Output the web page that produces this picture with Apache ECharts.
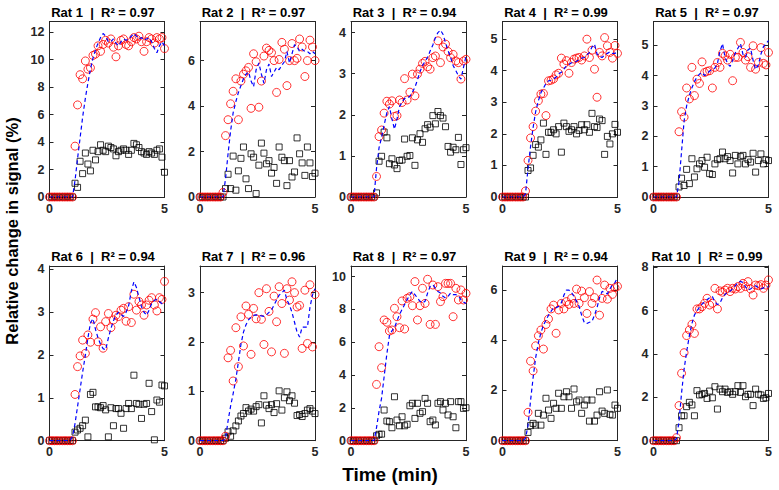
<!DOCTYPE html>
<html>
<head>
<meta charset="utf-8">
<script src="https://cdn.jsdelivr.net/npm/echarts@6/dist/echarts.min.js"></script>
<style>
html,body{margin:0;padding:0;background:#fff;}
#chart{width:779px;height:490px;}
</style>
</head>
<body>
<div id="chart"></div>
<script>
// ---- data ----
const T = [0,0.11,0.22,0.33,0.44,0.56,0.67,0.78,0.89,1,1.11,1.22,1.33,1.44,1.56,1.67,1.78,1.89,2,2.11,2.22,2.33,2.44,2.56,2.67,2.78,2.89,3,3.11,3.22,3.33,3.44,3.56,3.67,3.78,3.89,4,4.11,4.22,4.33,4.44,4.56,4.67,4.78,4.89,5];

const rat1Red   = [0,0,0,0,0,0,0,0,0, 0, 3.7,6.7,8.9,8.6,9.9,9.3,9.4,10.3,10.4,11.0, 10.6,11.1,11.4,11.2,11.5,10.9,10.2,11.0,11.4,11.5, 11.1,11.0,11.3,11.6,11.5,11.7,11.3,10.6,11.3,11.6, 11.5,11.2,11.6,11.5,11.6,10.8];
const rat1Black = [0,0,0,0,0,0,0,0,0, 0, 1.0,0.7,2.6,1.7,3.2,2.4,1.9,3.4,2.7,3.3, 3.8,3.4,3.3,3.7,3.6,3.5,3.0,3.3,3.4,3.5, 3.4,3.1,3.4,3.9,3.8,3.6,3.3,3.2,3.1,3.3, 3.2,3.1,3.4,3.5,2.9,1.8];
const rat1Fit   = [0,0,0,0,0,0,0,0,0, 0, 1.2,2.8,4.3,5.8,7.2,8.3,9.3,10.1,10.7,11.2, 11.6,11.9,11.7,11.3,11.3,11.5,11.2,11.0,11.3,11.5, 11.4,11.5,11.7,11.9,11.7,11.5,11.6,11.4,11.5,11.6, 11.3,10.8,10.5,11.0,11.3,11.0];

const rat2Red   = [0,0,0,0,0,0,0,0,0, 0.2, 2.7,3.4,4.1,4.65,5.2,3.4,5.1,5.4,5.55,5.7, 3.9,6.3,5.95,3.95,5.1,6.2,6.55,6.45,6.35,6.0, 4.6,6.05,6.8,6.5,4.9,6.0,6.75,6.0,6.1,6.95, 6.6,5.3,6.0,6.9,6.6,6.0];
const rat2Black = [0,0,0,0,0,0,0,0,0, 0, 0.37,1.0,0.37,1.8,0.3,1.15,1.7,2.2,0.8,0.37, 1.9,1.75,0.15,1.4,2.37,1.93,1.46,1.6,1.05,1.3, 0.6,2.2,1.75,1.6,0.5,1.6,0.88,1.1,2.6,1.9, 1.5,0.95,2.2,1.5,0.9,1.05];
const rat2Fit   = [0,0,0,0,0,0,0,0,0, 0, 0.8,1.9,2.9,3.7,4.2,4.6,4.9,5.2,5.4,5.5, 5.1,4.85,5.6,5.9,5.4,5.0,5.6,5.85,5.3,5.5, 5.7,5.6,5.8,5.95,6.4,5.9,6.3,6.7,6.6,6.4, 6.5,6.4,6.4,6.3,6.4,6.3];

const rat3Red   = [0,0,0,0,0,0,0,0,0, 0, 0.5,1.47,1.63,2.04,2.33,2.26,2.34,1.96,1.98,2.36, 2.3,2.88,2.36,2.55,2.99,2.46,2.99,3.11,3.25,3.3, 3.17,3.11,3.39,3.43,3.8,3.27,3.65,3.72,3.54,3.39, 3.47,3.31,3.27,2.87,3.31,3.35];
const rat3Black = [0,0,0,0,0,0,0,0,0, 0, 0.1,0.87,0.99,1.58,1.44,0.81,0.93,0.78,0.69,0.89, 0.9,1.41,0.99,1.01,1.44,0.77,1.39,1.54,1.33,1.66, 1.76,1.7,1.98,1.78,2.08,1.98,1.92,1.71,1.23,1.09, 1.21,1.15,1.45,0.79,1.15,1.2];
const rat3Fit   = [0,0,0,0,0,0,0,0,0, 0, 0.7,1.2,1.45,1.75,2.05,2.2,1.9,1.65,1.9,2.2, 2.3,2.4,2.4,2.45,2.55,2.67,2.85,3.05,3.2,3.3, 3.4,3.55,3.7,3.88,4.0,4.06,3.96,3.75,3.56,3.4, 3.2,3.07,2.95,2.87,3.15,3.43];

const rat4Red   = [0,0,0,0,0,0,0,0,0, 0.19, 1.16,1.87,2.23,2.72,3.05,3.26,3.28,2.58,3.68,3.7, 3.74,3.87,3.92,4.4,4.21,4.32,3.92,4.26,4.37,4.4, 4.42,4.34,4.47,5.0,4.42,4.65,4.05,3.16,4.58,4.47, 5.05,4.79,4.58,4.4,4.8,4.55];
const rat4Black = [0,0,0,0,0,0,0,0,0, 0, 0.84,0.92,1.32,1.66,1.58,1.81,2.34,1.35,2.05,2.05, 2.13,2.0,2.23,1.42,2.34,2.23,2.08,2.13,2.23,2.0, 2.11,2.29,2.13,2.29,2.05,2.65,2.23,2.2,2.47,2.42, 1.35,1.92,1.68,2.0,2.3,2.05];
const rat4Fit   = [0,0,0,0,0,0,0,0,0, 0.1, 0.9,1.6,2.2,2.7,3.05,3.3,3.45,3.6,3.68,3.7, 3.74,3.8,3.9,3.95,4.05,4.16,4.2,4.25,4.26,4.3, 4.35,4.4,4.42,4.5,4.58,4.75,4.84,4.53,4.45,4.42, 4.5,4.55,4.6,4.55,4.55,4.6];

const rat5Red   = [0,0,0,0,0,0,0,0,0, 0, 2.15,2.81,2.63,3.59,3.23,4.27,3.34,3.88,3.74,4.45, 4.1,4.14,4.16,3.59,4.27,4.43,4.27,4.73,4.65,4.51, 4.7,3.83,4.6,4.6,5.09,4.76,4.51,4.62,4.27,4.98, 4.21,4.43,4.92,4.4,4.35,4.76];
const rat5Black = [0,0,0,0,0,0,0,0,0, 0, 0.33,0.62,0.38,0.91,0.44,1.26,0.66,0.93,1.09,1.2, 0.98,1.31,0.77,0.74,1.09,1.23,1.26,1.48,1.26,1.33, 1.2,0.79,1.37,1.09,1.33,1.37,1.09,1.23,1.15,1.44, 0.82,1.2,1.42,1.09,1.23,1.2];
const rat5Fit   = [0,0,0,0,0,0,0,0,0, 0, 0.5,1.5,2.5,3.0,3.35,3.6,3.8,3.95,4.05,4.1, 4.0,4.05,4.15,4.2,4.25,4.4,4.8,5.05,4.6,4.4, 4.3,4.5,4.75,4.9,5.05,4.7,4.6,4.85,4.9,4.5, 4.2,4.35,4.7,4.95,5.05,5.15];

const rat6Red   = [0,0,0,0,0,0,0,0,0, 0, 1.08,1.73,1.98,2.35,2.04,2.47,2.3,2.84,2.99,2.31, 2.66,2.16,2.78,2.97,2.64,2.82,2.93,2.9,3.05,3.09, 2.79,3.13,2.76,3.42,3.05,3.25,3.17,2.93,3.17,3.28, 3.34,3.17,3.03,3.34,3.3,3.72];
const rat6Black = [0,0,0,0,0,0,0,0,0, 0, 0.2,0.25,0.29,0.35,0.48,0.09,1.08,1.13,0.79,0.79, 0.77,0.82,0.72,0.09,0.77,0.35,0.75,0.75,0.64,0.29, 0.75,0.87,0.75,1.53,0.87,0.85,0.52,0.85,0.87,1.34, 0.68,0.02,0.95,0.9,1.3,1.28];
const rat6Fit   = [0,0,0,0,0,0,0,0,0, 0.1, 0.4,0.8,1.2,1.6,2.0,2.4,2.75,2.85,2.6,2.4, 2.25,2.15,2.12,2.4,2.62,2.8,2.93,3.0,2.95,2.9, 3.0,3.15,3.5,3.71,3.58,3.35,3.13,3.0,2.93,3.05, 3.2,3.28,3.3,3.25,3.2,3.17];

const rat7Red   = [0,0,0,0,0,0,0,0,0, 0, 0.09,1.68,1.83,1.21,2.29,1.5,2.51,1.92,2.73,2.56, 1.75,2.68,2.47,3.0,2.46,1.95,3.08,2.62,1.8,2.93, 2.41,3.12,2.78,1.77,3.08,2.85,3.22,3.0,2.71,2.74, 1.87,3.05,1.97,3.16,1.9,2.96];
const rat7Black = [0,0,0,0,0,0,0,0,0, 0, 0.05,0.18,0.09,0.2,0.3,0.4,0.5,0.55,0.67,0.6, 0.64,0.6,0.69,0.73,0.36,0.91,0.72,0.65,0.73,0.57, 0.75,1.01,0.62,0.87,0.99,0.81,0.91,0.76,0.51,0.53, 0.49,0.55,0.62,0.65,0.6,0.55];
const rat7Fit   = [0,0,0,0,0,0,0,0,0, 0, 0.05,0.4,0.7,0.95,1.25,1.6,1.95,2.2,2.35,2.45, 2.5,2.54,2.55,2.54,2.53,2.52,2.55,2.6,2.65,2.75, 2.85,2.95,3.0,3.05,2.85,2.75,2.6,2.4,2.2,2.1, 2.3,2.3,2.3,2.7,2.95,3.08];

const rat8Red   = [0,0,0,0,0,0,0,0,0, 0, 3.43,5.73,4.45,7.36,7.22,6.69,6.75,8.07,7.56,6.89, 8.52,6.81,8.68,8.78,8.23,9.7,7.36,8.23,9.29,8.37, 9.84,7.09,9.49,7.09,9.39,8.48,8.78,9.59,9.59,9.59, 7.56,9.29,8.58,9.19,8.58,8.98];
const rat8Black = [0,0,0,0,0,0,0,0,0, 0, 0.3,0.39,0.4,1.87,1.2,1.16,0.79,2.68,1.26,0.91, 1.46,0.91,1.0,2.13,2.28,1.36,2.28,1.67,1.77,2.58, 2.28,1.16,1.26,0.96,2.28,2.38,1.87,2.28,1.57,2.38, 1.46,0.79,2.38,2.38,1.97,2.01];
const rat8Fit   = [0,0,0,0,0,0,0,0,0, 0, 0.8,1.8,2.6,3.9,5.3,6.4,6.7,6.9,7.3,7.7, 8.0,8.3,8.6,8.9,9.1,8.9,8.7,8.5,8.4,8.5, 9.0,9.4,9.5,9.3,9.1,9.0,8.8,8.7,8.8,9.0, 8.9,8.9,8.85,8.6,8.45,8.37];

const rat9Red   = [0,0,0,0,0,0,0,0,0, 0, 1.13,3.17,2.78,3.78,4.18,4.41,3.65,4.63,4.85,5.25, 5.4,4.28,5.21,5.47,5.25,5.54,5.43,5.67,5.47,6.04, 5.47,5.96,5.7,5.07,5.94,5.47,5.7,6.4,5.0,5.67, 6.2,5.64,6.07,5.83,6.1,6.15];
const rat9Black = [0,0,0,0,0,0,0,0,0, 0, 0.33,0.6,0.69,0.62,1.09,0.62,1.02,1.69,1.22,0.89, 1.49,1.29,1.89,1.29,1.75,1.95,1.75,1.29,2.06,1.55, 1.62,1.09,1.42,1.62,0.78,1.62,0.78,1.02,1.95,1.18, 1.09,2.02,1.05,1.02,1.42,1.29];
const rat9Fit   = [0,0,0,0,0,0,0,0,0, 0.1, 0.6,1.6,2.5,3.3,3.9,4.3,4.6,4.8,5.0,5.15, 5.3,5.3,5.35,5.5,5.8,6.0,6.0,5.9,5.75,5.55, 5.35,5.0,4.7,4.67,4.72,4.75,5.0,5.3,5.7,5.95, 5.9,5.85,6.05,6.2,6.3,6.5];

const rat10Red   = [0,0,0,0,0,0,0,0,0, 0.14, 1.62,3.11,4.06,4.85,5.11,5.37,4.95,6.08,6.08,6.18, 6.34,6.57,6.26,6.34,7.03,6.08,6.91,6.85,6.95,7.03, 6.88,7.03,7.0,7.11,7.03,7.26,7.11,7.34,7.0,6.72, 7.18,7.15,7.2,7.03,7.18,7.42];
const rat10Black = [0,0,0,0,0,0,0,0,0, 0, 0.6,1.15,1.15,1.57,1.77,1.65,1.15,2.31,2.11,2.14, 2.18,1.95,2.29,1.98,2.49,1.46,2.38,2.26,2.38,2.23, 2.26,2.14,2.26,2.54,2.23,2.54,2.03,2.14,2.14,1.62, 2.38,2.14,2.11,1.95,1.98,2.18];
const rat10Fit   = [0,0,0,0,0,0,0,0,0, 0.1, 0.9,2.2,3.3,4.1,4.85,5.4,5.8,6.0,6.15,6.3, 6.4,6.5,6.6,6.65,6.4,6.28,6.35,6.6,6.75,6.85, 6.9,7.0,7.15,7.3,7.35,7.3,7.1,6.95,7.0,7.1, 7.15,7.05,7.0,7.05,7.1,7.1];

const ratNames = ['Rat 1','Rat 2','Rat 3','Rat 4','Rat 5','Rat 6','Rat 7','Rat 8','Rat 9','Rat 10'];
const r2Values = ['0.97','0.97','0.94','0.99','0.97','0.94','0.96','0.97','0.94','0.99'];
const yMax  = [12.77, 7.72, 4.27, 5.56, 5.78, 4.08, 3.54, 10.65, 6.96, 8.06];
const yStep = [2, 2, 1, 1, 1, 1, 1, 2, 2, 2];
const xMin = 0, xMax = 5, xStep = 5;
const xAxisTitle = 'Time (min)';
const yAxisTitle = 'Relative change in signal (%)';

// ---- build ----
const reds   = [rat1Red, rat2Red, rat3Red, rat4Red, rat5Red, rat6Red, rat7Red, rat8Red, rat9Red, rat10Red];
const blacks = [rat1Black, rat2Black, rat3Black, rat4Black, rat5Black, rat6Black, rat7Black, rat8Black, rat9Black, rat10Black];
const fits   = [rat1Fit, rat2Fit, rat3Fit, rat4Fit, rat5Fit, rat6Fit, rat7Fit, rat8Fit, rat9Fit, rat10Fit];

const FONT = '"Liberation Sans", Arial, Helvetica, sans-serif';
const AX = '#262626';
const colLeft = [49.5, 200, 351, 502.5, 653.5];
const rowTop = [21.5, 266];
const rowH = [175.5, 174.7];
const W = 115;

const pairs = (ys) => T.map((t, k) => [t, ys[k]]);

const grid = [], xAxis = [], yAxis = [], series = [], graphic = [];
const lineCommon = {show: true, onZero: false, lineStyle: {color: AX, width: 1}};
const tickCommon = {show: true, inside: true, length: 4, lineStyle: {color: AX, width: 1}};
const labelCommon = {color: AX, fontWeight: 'bold', fontSize: 12.5, fontFamily: FONT};

for (let i = 0; i < 10; i++) {
  const r = Math.floor(i / 5), c = i % 5;
  grid.push({left: colLeft[c], top: rowTop[r], width: W, height: rowH[r], containLabel: false});
  xAxis.push({type: 'value', gridIndex: i, position: 'bottom', min: xMin, max: xMax, interval: xStep,
    axisLine: lineCommon, axisTick: tickCommon, splitLine: {show: false},
    axisLabel: Object.assign({show: true, margin: 5}, labelCommon)});
  xAxis.push({type: 'value', gridIndex: i, position: 'top', min: xMin, max: xMax, interval: xStep,
    axisLine: lineCommon, axisTick: tickCommon, splitLine: {show: false}, axisLabel: {show: false}});
  yAxis.push({type: 'value', gridIndex: i, position: 'left', min: 0, max: yMax[i], interval: yStep[i],
    axisLine: lineCommon, axisTick: tickCommon, splitLine: {show: false},
    axisLabel: Object.assign({show: true, margin: 5, showMaxLabel: false}, labelCommon)});
  yAxis.push({type: 'value', gridIndex: i, position: 'right', min: 0, max: yMax[i], interval: yStep[i],
    axisLine: lineCommon, axisTick: tickCommon, splitLine: {show: false}, axisLabel: {show: false}});

  series.push({type: 'scatter', xAxisIndex: 2 * i, yAxisIndex: 2 * i, data: pairs(blacks[i]),
    symbol: 'rect', symbolSize: 6, z: 2, silent: true,
    itemStyle: {color: 'rgba(0,0,0,0)', borderColor: '#000000', borderWidth: 1}});
  series.push({type: 'scatter', xAxisIndex: 2 * i, yAxisIndex: 2 * i, data: pairs(reds[i]),
    symbol: 'circle', symbolSize: 8, z: 3, silent: true,
    itemStyle: {color: 'rgba(0,0,0,0)', borderColor: '#ff0000', borderWidth: 1}});
  series.push({type: 'line', xAxisIndex: 2 * i, yAxisIndex: 2 * i, data: pairs(fits[i]),
    symbol: 'none', z: 4, silent: true, smooth: false,
    lineStyle: {color: '#0000ff', width: 1.2, type: [4, 3]}});

  graphic.push({type: 'text', x: colLeft[c] + W / 2 - 4, y: r === 0 ? 12.5 : 256,
    style: {text: ratNames[i] + '  |  R\u00B2 = ' + r2Values[i], textAlign: 'center', textVerticalAlign: 'middle',
      font: 'bold 13px ' + FONT, fill: '#000'}});
}

graphic.push({type: 'text', x: 12, y: 231, rotation: Math.PI / 2,
  style: {text: yAxisTitle, textAlign: 'center', textVerticalAlign: 'middle', font: 'bold 16.5px ' + FONT, fill: '#000'}});
graphic.push({type: 'text', x: 390, y: 474,
  style: {text: xAxisTitle, textAlign: 'center', textVerticalAlign: 'middle', font: 'bold 19px ' + FONT, fill: '#000'}});

const chart = echarts.init(document.getElementById('chart'), null, {renderer: 'svg'});
chart.setOption({animation: false, backgroundColor: '#fff', grid, xAxis, yAxis, series, graphic});
</script>
</body>
</html>
